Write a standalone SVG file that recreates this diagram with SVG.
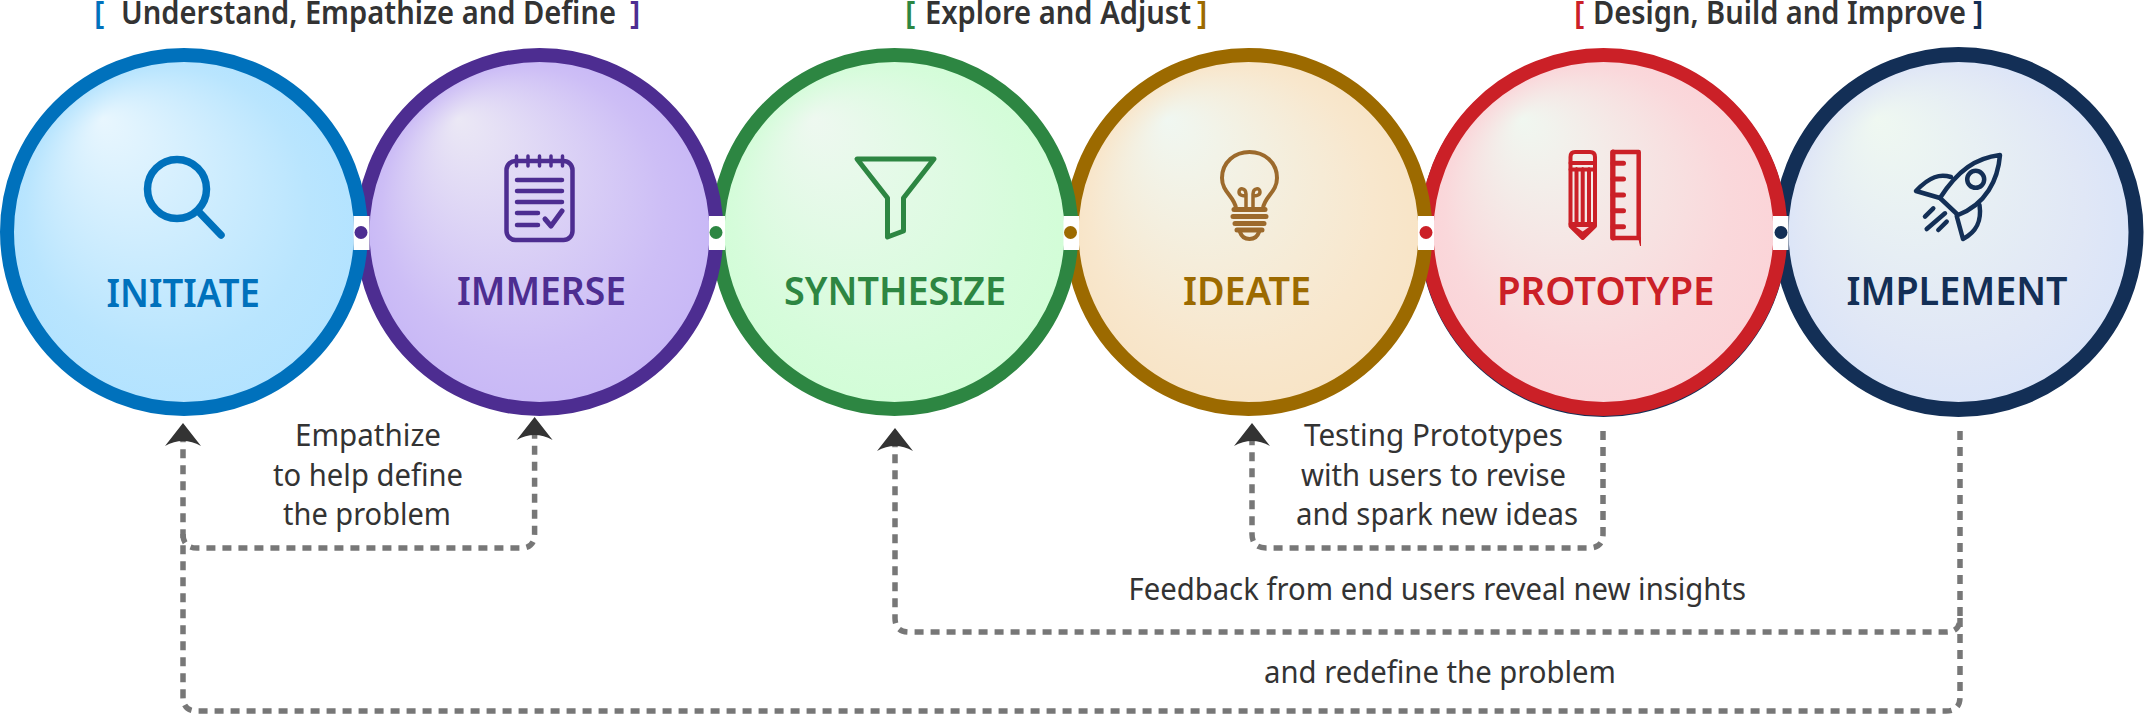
<svg xmlns="http://www.w3.org/2000/svg" width="2145" height="714" viewBox="0 0 2145 714">
<style>
text{font-family:"Noto Sans","Open Sans","Liberation Sans",sans-serif}
.h{font-size:31.500px;font-weight:600;fill:#333}
.b{font-size:31px;font-weight:400;fill:#333}
.n{font-size:39px;font-weight:600}
.ring{stroke-width:14}
.ico{fill:none;stroke-linecap:round;stroke-linejoin:round}
.con{fill:none;stroke:#777;stroke-width:5.5;stroke-dasharray:9 7}
.arr{marker-end:url(#ah)}
.gap{fill:#fff}
</style>
<defs>
<marker id="ah" markerUnits="userSpaceOnUse" markerWidth="24" markerHeight="38" viewBox="0 0 24 38" refX="8" refY="19" orient="auto"><path d="M0 1L23 19L0 37Q10 19 0 1Z" fill="#333"/></marker>
<radialGradient id="g1" cx=".5" cy=".5" r=".5" fx=".27" fy=".18"><stop offset="0" stop-color="#e8f6fe"/><stop offset=".8" stop-color="#b9e5fe"/><stop offset="1" stop-color="#b3e3ff"/></radialGradient>
<radialGradient id="g2" cx=".5" cy=".5" r=".5" fx=".27" fy=".18"><stop offset="0" stop-color="#ebe8f5"/><stop offset=".8" stop-color="#cdbef6"/><stop offset="1" stop-color="#c8b8f6"/></radialGradient>
<radialGradient id="g3" cx=".5" cy=".5" r=".5" fx=".27" fy=".18"><stop offset="0" stop-color="#eef8f0"/><stop offset=".8" stop-color="#d6fcdb"/><stop offset="1" stop-color="#d2fdd7"/></radialGradient>
<radialGradient id="g4" cx=".5" cy=".5" r=".5" fx=".27" fy=".18"><stop offset="0" stop-color="#f0f7f1"/><stop offset=".8" stop-color="#f8e7cd"/><stop offset="1" stop-color="#f8e4c6"/></radialGradient>
<radialGradient id="g5" cx=".5" cy=".5" r=".5" fx=".27" fy=".18"><stop offset="0" stop-color="#f0f7f0"/><stop offset=".8" stop-color="#fad8db"/><stop offset="1" stop-color="#fbd4d8"/></radialGradient>
<radialGradient id="g6" cx=".5" cy=".5" r=".5" fx=".27" fy=".18"><stop offset="0" stop-color="#eff8f1"/><stop offset=".8" stop-color="#e0e7f6"/><stop offset="1" stop-color="#dae4f8"/></radialGradient>
</defs>

<g id="headings">
<text class="h" y="24"><tspan x="94" fill="#0071bc">[</tspan></text>
<text class="h" x="121" y="24" textLength="495" lengthAdjust="spacingAndGlyphs">Understand, Empathize and Define</text>
<text class="h" y="24"><tspan x="630" fill="#4d2d91">]</tspan></text>
<text class="h" y="24"><tspan x="905" fill="#2d8642">[</tspan></text>
<text class="h" x="925" y="24" textLength="266" lengthAdjust="spacingAndGlyphs">Explore and Adjust</text>
<text class="h" y="24"><tspan x="1197" fill="#9c6a00">]</tspan></text>
<text class="h" y="24"><tspan x="1574" fill="#cb2027">[</tspan></text>
<text class="h" x="1593" y="24" textLength="373" lengthAdjust="spacingAndGlyphs">Design, Build and Improve</text>
<text class="h" y="24"><tspan x="1973" fill="#132f56">]</tspan></text>
</g>

<g id="implement">
<circle cx="1958.500" cy="232" r="177.500" fill="url(#g6)" stroke="#132f56" stroke-width="15"/>
<text class="n" x="1846.500" y="305" fill="#132f56" textLength="221" lengthAdjust="spacingAndGlyphs">IMPLEMENT</text>
<g class="ico" stroke="#132f56" stroke-width="4.500">
<path d="M2000 155C1976 158 1958 170 1940 198L1958 215C1986 204 1998 180 2000 155Z"/>
<circle cx="1975.700" cy="179.300" r="8.500"/>
<path d="M1951 177C1940 174 1930 176 1916 191L1940 198"/>
<path d="M1979.500 205C1982 222 1976 232 1963 239L1956.700 216"/>
<path d="M1925 216.700L1933.300 208.300M1926.700 229L1945 213.300M1938.300 230L1946.700 221.700"/>
</g>
</g>

<g id="prototype">
<circle cx="1603.500" cy="233" r="184" fill="#132f56"/>
<circle class="ring" cx="1603.500" cy="232" r="177" fill="url(#g5)" stroke="#cb2027"/>
<text class="n" x="1497" y="305" fill="#cb2027" textLength="217.500" lengthAdjust="spacingAndGlyphs">PROTOTYPE</text>
<g class="ico" stroke="#cb2027" stroke-width="4">
<path d="M1570.500 226V157Q1570.500 152 1575 152H1590Q1595 152 1595 157V226L1582.700 238Z"/>
<path d="M1570.500 163H1595M1570.500 169.500H1595M1570.500 224H1595M1576.500 169V224M1582.700 169V224M1589 169V224"/>
<path d="M1572 226H1593L1582.700 237Z" fill="#cb2027"/>
<path d="M1576 227H1589L1582.700 231.500Z" fill="#f7d9da" stroke="none"/>
<path d="M1612.500 152H1638.700V238H1612.500Z" stroke-width="4.500"/>
<path d="M1613 152V238" stroke-width="5"/>
<path d="M1613 163.300H1623.500M1613 179H1623.500M1613 195H1623.500M1613 210.700H1623.500M1613 226.700H1623.500" stroke-width="5"/>
<path d="M1638.700 238L1640.500 246V238Z" fill="#cb2027" stroke-width="1"/>
</g>
</g>

<g id="ideate">
<circle class="ring" cx="1248.500" cy="232" r="177" fill="url(#g4)" stroke="#9c6a00"/>
<text class="n" x="1183" y="305" fill="#9c6a00" textLength="128" lengthAdjust="spacingAndGlyphs">IDEATE</text>
<g class="ico" stroke="#9c6a2c" stroke-width="4">
<path d="M1236 208C1234 196 1222 192 1222 178C1222 162 1235 152 1249.500 152C1264 152 1277 162 1277 178C1277 192 1265 196 1263 208"/>
<path d="M1246 208V194C1246 188 1239 187 1239 192C1239 196 1246 197 1246 194M1253 208V194C1253 188 1260 187 1260 192C1260 196 1253 197 1253 194" stroke-width="3.500"/>
<path d="M1234 209.500H1265" stroke-width="5"/>
<path d="M1233 216.500H1266M1235 223.500H1264M1237 230H1262" stroke-width="5"/>
<path d="M1240 232C1242 238 1246 239 1249.500 239C1253 239 1257 238 1259 232" stroke-width="4"/>
</g>
</g>

<g id="synthesize">
<circle class="ring" cx="894.500" cy="232" r="177" fill="url(#g3)" stroke="#2d8642"/>
<text class="n" x="784" y="305" fill="#2d8642" textLength="222" lengthAdjust="spacingAndGlyphs">SYNTHESIZE</text>
<path class="ico" stroke="#2d8642" stroke-width="5" d="M857 159H934L903.500 198V231L887.500 237V198Z"/>
</g>

<g id="immerse">
<circle class="ring" cx="539.500" cy="232" r="177" fill="url(#g2)" stroke="#4d2d91"/>
<text class="n" x="457" y="305" fill="#4d2d91" textLength="169" lengthAdjust="spacingAndGlyphs">IMMERSE</text>
<g class="ico" stroke="#4d2d91" stroke-width="4.500">
<rect x="506.500" y="161" width="66" height="79" rx="9"/>
<path d="M516.500 156V166M528 156V166M539.500 156V166M551 156V166M562.500 156V166" stroke-width="3.500"/>
<path d="M517 180H562M517 191H562M517 202H562M517 213H538M517 225H538"/>
<path d="M545 219L551 226L562 211" stroke-width="5"/>
</g>
</g>

<g id="initiate">
<circle class="ring" cx="184" cy="232" r="177" fill="url(#g1)" stroke="#0071bc"/>
<text class="n" x="106.500" y="306.500" fill="#0071bc" textLength="153.500" lengthAdjust="spacingAndGlyphs">INITIATE</text>
<g class="ico" stroke="#0071bc" stroke-width="7.500">
<circle cx="177" cy="189" r="29.500"/>
<path d="M199 212L221 235"/>
</g>
</g>

<g id="junctions">
<rect class="gap" x="353.500" y="216" width="16" height="34"/><circle cx="361" cy="232.500" r="6.500" fill="#4d2d91"/>
<rect class="gap" x="709" y="216" width="16" height="34"/><circle cx="716" cy="232.500" r="6.500" fill="#2d8642"/>
<rect class="gap" x="1063.500" y="216" width="15.500" height="34"/><circle cx="1070.500" cy="232.500" r="6.500" fill="#9c6a00"/>
<rect class="gap" x="1418" y="216" width="16" height="34"/><circle cx="1426" cy="232.500" r="6.500" fill="#cb2027"/>
<rect class="gap" x="1773" y="216" width="15.500" height="34"/><circle cx="1781" cy="232.500" r="6.500" fill="#132f56"/>
</g>

<g id="connectors">
<path class="con arr" d="M183 534Q183 548 197 548H521Q534.600 548 534.600 534V432"/>
<path class="con arr" d="M1603 431V534Q1603 548 1589 548H1266Q1252 548 1252 534V438"/>
<path class="con arr" d="M1960 431V618Q1960 632 1946 632H909Q895 632 895 618V443"/>
<path class="con arr" d="M1960 618V697Q1960 711 1946 711H197Q183 711 183 697V438"/>
</g>

<g id="labels">
<text class="b" x="295" y="445.700" textLength="146" lengthAdjust="spacingAndGlyphs">Empathize</text>
<text class="b" x="273" y="485.700" textLength="190" lengthAdjust="spacingAndGlyphs">to help define</text>
<text class="b" x="283" y="525" textLength="168" lengthAdjust="spacingAndGlyphs">the problem</text>
<text class="b" x="1304" y="445.700" textLength="259" lengthAdjust="spacingAndGlyphs">Testing Prototypes</text>
<text class="b" x="1301" y="485.700" textLength="265" lengthAdjust="spacingAndGlyphs">with users to revise</text>
<text class="b" x="1296" y="525" textLength="282" lengthAdjust="spacingAndGlyphs">and spark new ideas</text>
<text class="b" x="1128.500" y="600" textLength="617.500" lengthAdjust="spacingAndGlyphs">Feedback from end users reveal new insights</text>
<text class="b" x="1264" y="682.700" textLength="352" lengthAdjust="spacingAndGlyphs">and redefine the problem</text>
</g>
</svg>
